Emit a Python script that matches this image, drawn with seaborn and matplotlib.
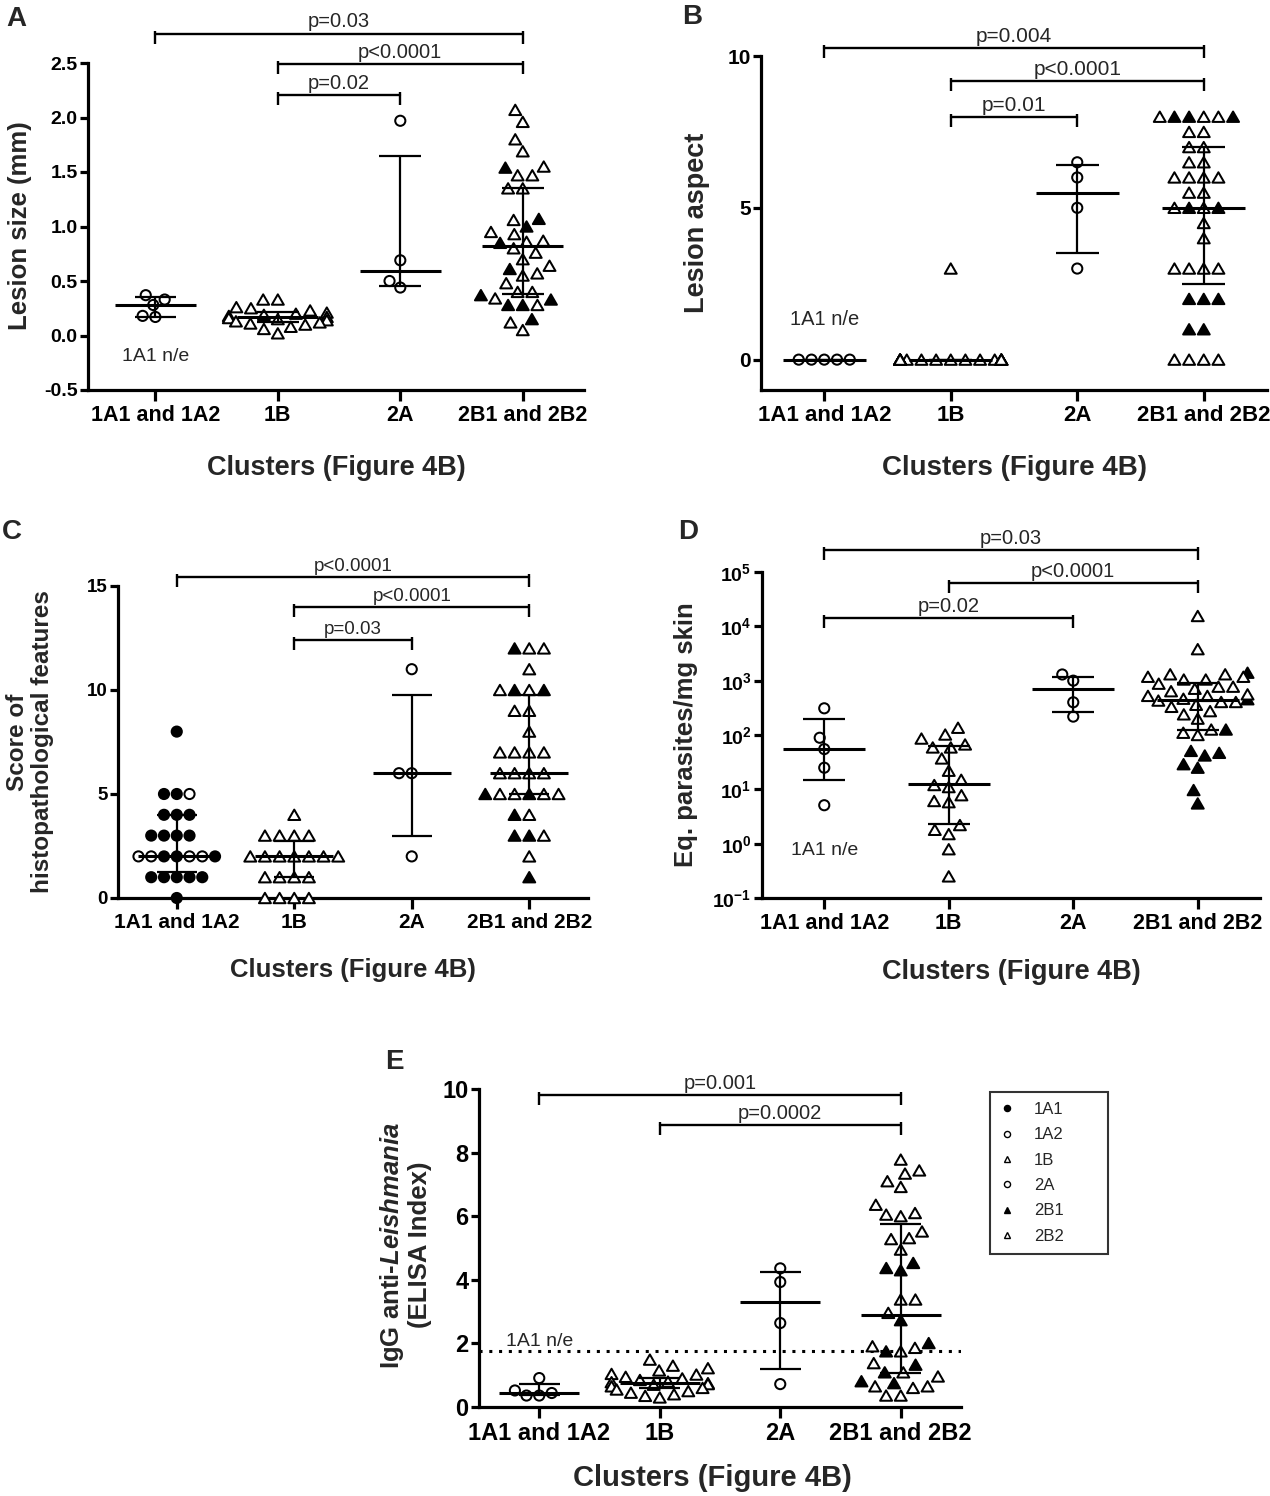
import numpy as np
import pandas as pd
import matplotlib
matplotlib.use("Agg")
import matplotlib.pyplot as plt
import seaborn as sns
from matplotlib.path import Path
from matplotlib.lines import Line2D
from matplotlib.ticker import NullLocator
import warnings
warnings.filterwarnings("ignore")

sns.set_theme(style="ticks")
plt.rcParams["font.family"] = ["Liberation Sans", "DejaVu Sans"]
plt.rcParams["mathtext.fontset"] = "custom"
plt.rcParams["mathtext.rm"] = "Liberation Sans:bold"
plt.rcParams["mathtext.bf"] = "Liberation Sans:bold"
plt.rcParams["mathtext.it"] = "Liberation Sans:italic:bold"

# ---------------- data ----------------
CATS = ["1A1 and 1A2", "1B", "2A", "2B1 and 2B2"]
SUBS = ["1A1", "1A2", "1B", "2A", "2B1", "2B2"]
CIRCLE_SUBS = ["1A1", "1A2", "2A"]
TRI_SUBS = ["1B", "2B1", "2B2"]
FILL = {"1A1": "black", "1A2": "white", "1B": "white",
        "2A": "white", "2B1": "black", "2B2": "white"}

# Panel A: lesion size (mm)
A_1A2 = [0.37, 0.33, 0.28, 0.18, 0.17]
A_1B = [0.33, 0.33, 0.26, 0.25, 0.23, 0.21, 0.20, 0.19, 0.18, 0.17,
        0.16, 0.15, 0.14, 0.13, 0.12, 0.11, 0.10, 0.08, 0.06, 0.02]
A_2A = [1.97, 0.69, 0.50, 0.44]
A_2B1 = [1.54, 1.07, 1.00, 0.85, 0.61, 0.37, 0.33, 0.28, 0.28, 0.15]
A_2B2 = [2.07, 1.96, 1.80, 1.69, 1.55, 1.47, 1.47, 1.35, 1.35, 1.06, 0.95, 0.93,
         0.87, 0.86, 0.80, 0.76, 0.70, 0.64, 0.57, 0.55, 0.48, 0.40, 0.40, 0.34,
         0.28, 0.12, 0.05]
A_MED = [0.28, 0.17, 0.59, 0.82]
A_Q1 = [0.17, 0.12, 0.45, 0.38]
A_Q3 = [0.35, 0.22, 1.65, 1.35]

# Panel B: lesion aspect
B_1A2 = [0, 0, 0, 0, 0]
B_1B = [3, 0, 0, 0, 0, 0, 0, 0, 0, 0, 0, 0, 0, 0, 0, 0, 0, 0, 0, 0, 0]
B_2A = [6.5, 6.0, 5.0, 3.0]
B_2B1 = [8, 8, 8, 5, 5, 2, 2, 2, 1, 1]
B_2B2 = [8, 8, 8, 7.5, 7.5, 7, 7, 6.5, 6.5, 6, 6, 6, 6, 5.5, 5.5, 5, 5, 4.5, 4,
         3, 3, 3, 3, 0, 0, 0, 0]
B_MED = [0, 0, 5.5, 5.0]
B_Q1 = [0, 0, 3.5, 2.5]
B_Q3 = [0, 0, 6.4, 7.0]

# Panel C: histopathological score
C_1A1 = [8, 5, 5, 4, 4, 4, 3, 3, 3, 3, 2, 2, 2, 1, 1, 1, 1, 1, 0]
C_1A2 = [5, 2, 2, 2, 2]
C_1B = [4, 3, 3, 3, 3, 2, 2, 2, 2, 2, 2, 2, 1, 1, 1, 1, 0, 0, 0, 0]
C_2A = [11, 6, 6, 2]
C_2B1 = [12, 10, 10, 5, 5, 4, 3, 3, 1]
C_2B2 = [12, 12, 11, 10, 10, 9, 9, 8, 7, 7, 7, 7, 6, 6, 6, 6, 5, 5, 5, 5, 4, 3, 2]
C_MED = [2, 2, 6, 6]
C_Q1 = [1.25, 1, 3, 5]
C_Q3 = [4, 2.75, 9.75, 9.75]

# Panel D: Eq. parasites / mg skin
D_1A2 = [310, 89, 55, 25, 5.1]
D_1B = [136, 102, 86, 67, 59, 59, 37, 22, 15, 12, 11, 7.8, 6.1, 5.8, 2.2, 1.8,
        1.5, 0.79, 0.25]
D_2A = [1300, 1000, 400, 218]
D_2B1 = [1400, 455, 126, 51, 47, 42, 29, 25, 9.7, 5.5]
D_2B2 = [15500, 3800, 1310, 1310, 1180, 1180, 1050, 1050, 880, 775, 775, 710, 640,
         560, 525, 525, 465, 430, 405, 405, 360, 330, 275, 240, 200, 126, 110, 100]
D_MED = [55, 12.7, 690, 435]
D_Q1 = [15, 2.3, 270, 126]
D_Q3 = [195, 63, 1180, 910]

# Panel E: IgG anti-Leishmania (ELISA index)
E_1A2 = [0.91, 0.52, 0.44, 0.36, 0.36]
E_1B = [1.49, 1.30, 1.22, 1.15, 1.04, 1.02, 0.95, 0.90, 0.85, 0.80, 0.78, 0.75,
        0.72, 0.70, 0.65, 0.60, 0.55, 0.50, 0.45, 0.40, 0.35, 0.30]
E_2A = [4.36, 3.93, 2.64, 0.72]
E_2B1 = [4.53, 4.37, 4.30, 2.73, 2.01, 1.75, 1.33, 1.09, 0.81, 0.75]
E_2B2 = [7.78, 7.44, 7.34, 7.10, 6.92, 6.36, 6.10, 6.05, 6.00, 5.52, 5.31, 5.28,
         4.95, 3.38, 3.38, 2.96, 1.91, 1.86, 1.75, 1.38, 1.09, 0.96, 0.65, 0.65,
         0.60, 0.36, 0.36]
E_MED = [0.44, 0.75, 3.29, 2.90]
E_Q1 = [0.37, 0.60, 1.19, 1.07]
E_Q3 = [0.72, 0.90, 4.24, 5.77]
E_CUTOFF = 1.77

# significance brackets: (from, to, height, label)
A_BRK = [(0, 3, 2.77, "p=0.03"), (1, 3, 2.49, "p<0.0001"), (1, 2, 2.21, "p=0.02")]
B_BRK = [(0, 3, 10.25, "p=0.004"), (1, 3, 9.18, "p<0.0001"), (1, 2, 8.0, "p=0.01")]
C_BRK = [(0, 3, 15.45, "p<0.0001"), (1, 3, 14.0, "p<0.0001"), (1, 2, 12.4, "p=0.03")]
D_BRK = [(0, 3, 2.5e5, "p=0.03"), (1, 3, 6.3e4, "p<0.0001"), (0, 2, 1.4e4, "p=0.02")]
E_BRK = [(0, 3, 9.82, "p=0.001"), (1, 3, 8.88, "p=0.0002")]

# ---------------- drawing ----------------
W, H = 1270, 1496
fig = plt.figure(figsize=(W / 100, H / 100), dpi=100)
fig.patch.set_facecolor("white")

TRI = Path([(0, 0.87), (-1, -0.87), (1, -0.87), (0, 0.87)], closed=True)
TICK = Path([(0, 0.3), (0, -1)], [Path.MOVETO, Path.LINETO])


def frame(groups):
    rows = [(c, s, v) for c, s, vals in groups for v in vals]
    return pd.DataFrame(rows, columns=["cluster", "sub", "value"])


def add_ax(l, r, t, b):
    return fig.add_axes([l / W, 1 - b / H, (r - l) / W, (b - t) / H])


def ftext(x, y, s, **kw):
    fig.text(x / W, 1 - y / H, s, **kw)


def panel(box, groups, stats, brackets, ylim, yticks, yticklabels,
          xlim=(-0.5, 3.5), log=False, xt_size=15.5, yt_size=14, p_size=14.5):
    ax = add_ax(*box)
    ax.set_facecolor("white")
    if log:
        ax.set_yscale("log")
    ax.set_ylim(*ylim)
    df = frame(groups)
    for subs, mk, sz in ((CIRCLE_SUBS, "o", 7.3), (TRI_SUBS, TRI, 8.6)):
        d = df[df["sub"].isin(subs)]
        sns.swarmplot(data=d, x="cluster", y="value", hue="sub", order=CATS,
                      palette=FILL, marker=mk, size=sz, edgecolor="black",
                      linewidth=1.45, legend=False, clip_on=False, ax=ax)
    # drop empty collections (seaborn creates them for empty categories)
    for coll in list(ax.collections):
        if len(coll.get_offsets()) == 0:
            coll.remove()
    med, q1, q3 = stats
    xs = np.arange(len(CATS))
    ax.hlines(med, xs - 0.33, xs + 0.33, color="black", lw=2.2, zorder=4)
    ax.vlines(xs, q1, q3, color="black", lw=1.6, zorder=4)
    ax.hlines(q1, xs - 0.17, xs + 0.17, color="black", lw=1.6, zorder=4)
    ax.hlines(q3, xs - 0.17, xs + 0.17, color="black", lw=1.6, zorder=4)
    for i, j, y, txt in brackets:
        ax.plot([i, j], [y, y], color="black", lw=1.7, clip_on=False,
                marker=TICK, markersize=14, mew=1.7, mec="black", zorder=5)
        ax.annotate(txt, xy=((i + j) / 2, y), xytext=(0, 1.5),
                    textcoords="offset points", ha="center", va="bottom",
                    fontsize=p_size, annotation_clip=False)
    ax.set_ylim(*ylim)
    ax.set_xlim(*xlim)
    ax.set_yticks(yticks, yticklabels, fontsize=yt_size, fontweight="bold")
    ax.set_xticks(xs, CATS, fontsize=xt_size, fontweight="bold")
    if log:
        ax.yaxis.set_minor_locator(NullLocator())
    ax.set_xlabel("")
    ax.set_ylabel("")
    sns.despine(ax=ax)
    for s in ("left", "bottom"):
        ax.spines[s].set_linewidth(2.3)
        ax.spines[s].set_color("black")
    ax.tick_params(axis="both", width=2.3, color="black", labelcolor="black")
    ax.tick_params(axis="y", pad=1.5, length=6)
    ax.tick_params(axis="x", pad=3, length=8)
    ax.grid(False)
    return ax


# Panel A
axA = panel((88, 584, 63, 390),
            [(CATS[0], "1A2", A_1A2), (CATS[1], "1B", A_1B), (CATS[2], "2A", A_2A),
             (CATS[3], "2B1", A_2B1), (CATS[3], "2B2", A_2B2)],
            (A_MED, A_Q1, A_Q3), A_BRK, (-0.5, 2.5),
            [-0.5, 0, 0.5, 1.0, 1.5, 2.0, 2.5],
            ["-0.5", "0.0", "0.5", "1.0", "1.5", "2.0", "2.5"],
            xlim=(-0.55, 3.5), xt_size=15.5, yt_size=14)
axA.text(0, -0.19, "1A1 n/e", ha="center", va="center", fontsize=14)

# Panel B
axB = panel((761, 1267, 56, 390),
            [(CATS[0], "1A2", B_1A2), (CATS[1], "1B", B_1B), (CATS[2], "2A", B_2A),
             (CATS[3], "2B1", B_2B1), (CATS[3], "2B2", B_2B2)],
            (B_MED, B_Q1, B_Q3), B_BRK, (-1, 10), [0, 5, 10], ["0", "5", "10"],
            xt_size=16, yt_size=15, p_size=15)
axB.text(0, 1.32, "1A1 n/e", ha="center", va="center", fontsize=14.5)

# Panel C
axC = panel((118, 588, 586, 898),
            [(CATS[0], "1A1", C_1A1), (CATS[0], "1A2", C_1A2), (CATS[1], "1B", C_1B),
             (CATS[2], "2A", C_2A), (CATS[3], "2B1", C_2B1), (CATS[3], "2B2", C_2B2)],
            (C_MED, C_Q1, C_Q3), C_BRK, (0, 15), [0, 5, 10, 15],
            ["0", "5", "10", "15"], xt_size=15, yt_size=13.5, p_size=13.5)

# Panel D
dt = [0.1, 1, 10, 100, 1e3, 1e4, 1e5]
axD = panel((762, 1260, 572, 898),
            [(CATS[0], "1A2", D_1A2), (CATS[1], "1B", D_1B), (CATS[2], "2A", D_2A),
             (CATS[3], "2B1", D_2B1), (CATS[3], "2B2", D_2B2)],
            (D_MED, D_Q1, D_Q3), D_BRK, (0.1, 1e5), dt,
            [r"$\mathbf{10^{%d}}$" % e for e in range(-1, 6)],
            log=True, xt_size=15.5, yt_size=14, p_size=14.5)
axD.text(0, 0.76, "1A1 n/e", ha="center", va="center", fontsize=14)

# Panel E
axE = panel((479, 961, 1089, 1407),
            [(CATS[0], "1A2", E_1A2), (CATS[1], "1B", E_1B), (CATS[2], "2A", E_2A),
             (CATS[3], "2B1", E_2B1), (CATS[3], "2B2", E_2B2)],
            (E_MED, E_Q1, E_Q3), E_BRK, (0, 10), [0, 2, 4, 6, 8, 10],
            ["0", "2", "4", "6", "8", "10"], xt_size=17, yt_size=17, p_size=14.5)
axE.axhline(E_CUTOFF, color="black", lw=2.2, ls=(0, (1, 2.2)), zorder=2)
axE.text(0, 2.07, "1A1 n/e", ha="center", va="center", fontsize=14)

# axis titles
XL = "Clusters (Figure 4B)"
ftext(336, 468, XL, ha="center", va="center", fontsize=19.5, fontweight="bold")
ftext(1014, 468, XL, ha="center", va="center", fontsize=20, fontweight="bold")
ftext(353, 970, XL, ha="center", va="center", fontsize=18.5, fontweight="bold")
ftext(1011, 972, XL, ha="center", va="center", fontsize=19.5, fontweight="bold")
ftext(712, 1478, XL, ha="center", va="center", fontsize=21, fontweight="bold")

ftext(20, 226, "Lesion size (mm)", rotation=90, ha="center", va="center",
      fontsize=18.5, fontweight="bold")
ftext(697, 223, "Lesion aspect", rotation=90, ha="center", va="center",
      fontsize=19.5, fontweight="bold")
ftext(30, 742, "Score of\nhistopathological features", rotation=90, ha="center",
      va="center", fontsize=17.5, fontweight="bold", multialignment="center",
      linespacing=1.1)
ftext(686, 735, "Eq. parasites/mg skin", rotation=90, ha="center", va="center",
      fontsize=18.5, fontweight="bold")
ftext(405, 1245, "IgG anti-$\\mathit{Leishmania}$\n(ELISA Index)", rotation=90,
      ha="center", va="center", fontsize=18.5, fontweight="bold",
      multialignment="center", linespacing=1.1)

# panel letters
for lx, ly, letter in [(16, 19, "A"), (692, 17, "B"), (12, 532, "C"),
                       (688, 532, "D"), (394, 1062, "E")]:
    ftext(lx, ly, letter, ha="center", va="center", fontsize=20, fontweight="bold")

# legend
handles = []
for s in SUBS:
    mk = "o" if s in CIRCLE_SUBS else "^"
    handles.append(Line2D([], [], ls="none", marker=mk, ms=4.4,
                          mfc=FILL[s], mec="black", mew=1.0))
leg = fig.legend(handles, SUBS, loc="upper left",
                 bbox_to_anchor=(990 / W, 1 - 1092 / H, 118 / W, 0),
                 mode="expand", frameon=True, fancybox=False, edgecolor="black",
                 fontsize=12, handlelength=0.8, handletextpad=1.25,
                 labelspacing=0.62, borderpad=0.6, borderaxespad=0)
leg.get_frame().set_linewidth(1.5)

fig.savefig("out.png", dpi=100, facecolor="white")
